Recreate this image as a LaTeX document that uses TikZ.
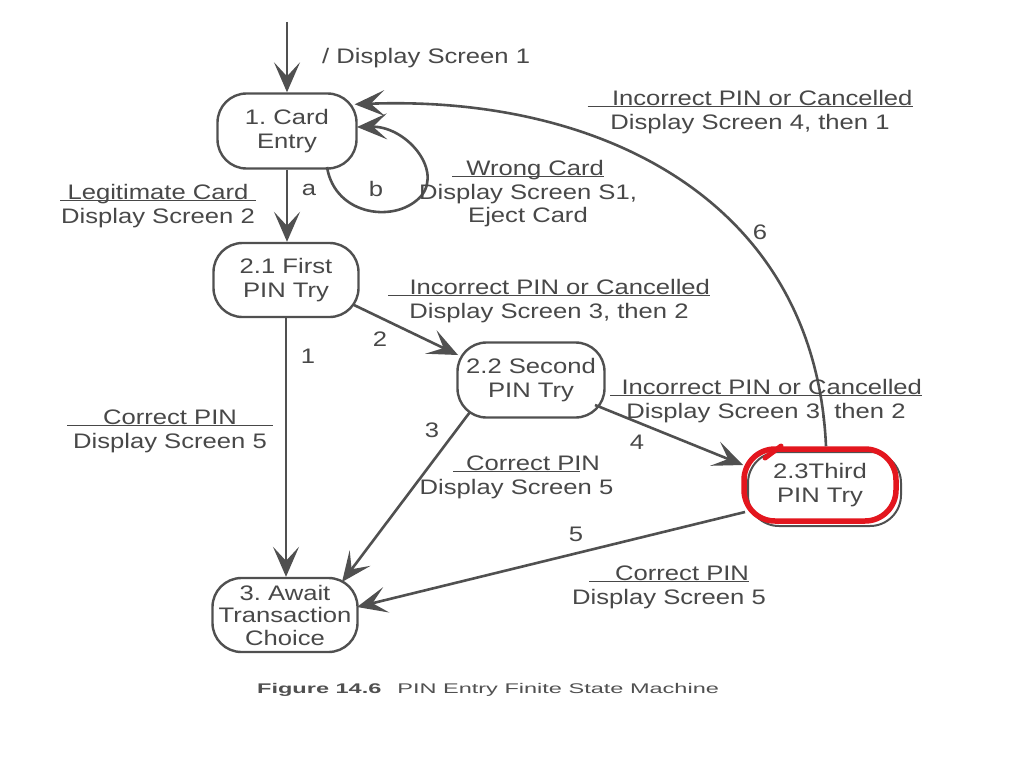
\documentclass[tikz,border=0pt]{standalone}
\usepackage{fontspec}
\setmainfont{Liberation Sans}[FakeStretch=1.22]
\newfontfamily\capfont{Liberation Sans}[FakeStretch=1.68]
\usetikzlibrary{arrows.meta,calc}
\definecolor{ink}{HTML}{484848}
\definecolor{lin}{HTML}{505050}
\definecolor{redmark}{HTML}{E3161E}
\newcommand\ulbox[1]{\setbox0\hbox{#1}\rlap{\color{ink}\rule[-1.6pt]{\wd0}{1.4pt}}\box0}
\newcommand\evt[2]{\begin{tabular}[t]{@{}c@{}}\ulbox{#1}\\#2\end{tabular}}
\begin{document}
\begin{tikzpicture}[x=1pt,y=-1pt,
  font=\fontsize{21}{23.5}\selectfont, text=ink,
  state/.style={draw=lin, line width=2.4pt, rounded corners=29pt,
    minimum width=145pt, minimum height=74pt, align=center, inner sep=0pt},
  tr/.style={draw=lin, line width=2.6pt, -{Stealth[length=30pt,width=26pt,inset=14pt]}},
  lbl/.style={anchor=base, inner sep=0pt},
  num/.style={inner sep=0pt}]
\useasboundingbox[fill=white] (0,0) rectangle (1024,768);

% states
\node[state, minimum width=139pt, minimum height=75pt] (card) at (287,131) {1.~Card\\Entry};
\node[state] (first) at (286,280) {2.1 First\\PIN Try};
\node[state, minimum width=147pt, minimum height=75pt] (second) at (531,380) {2.2 Second\\PIN Try};
\draw[lin, line width=2pt, rounded corners=31pt] (748,452) rectangle (901,526);
\node[state, draw=redmark, line width=5.5pt, rounded corners=31pt, minimum width=152pt, minimum height=72pt] (third) at (820,485) {2.3Third\\PIN Try};
\draw[redmark, line width=5pt, line cap=round] (765,458) -- (781,446);
\node[state, font=\fontsize{21}{22.5}\selectfont] (await) at (285,615) {3.~Await\\Transaction\\Choice};

% transitions
\coordinate (start) at (287,22);
\draw[tr] (start) -- (card.north);
\draw[tr] (card.south) -- (card.south |- first.north);
\draw[tr] ($(card.center)+(40,36)$) .. controls (335,217) and (398,224) .. (422,195)
  .. controls (442,168) and (405,126) .. ($(card.center)+(70,-4)$);
\draw[tr] ($(third.north)+(6,0)$) .. controls (815,200) and (600,95) .. ($(card.north east)+(-3,12)$);
\draw[tr] (first.south) -- (first.south |- await.north);
\draw[tr] ($(first.center)+(68,25)$) -- ($(second.center)+(-73,-25)$);
\draw[tr] ($(second.center)+(-61,32)$) -- ($(await.center)+(57,-33)$);
\draw[tr] ($(second.center)+(64,25)$) -- ($(third.center)+(-77,-20)$);
\draw[tr] ($(third.center)+(-75,27)$) -- ($(await.center)+(72,-8)$);

% numbers
\node[num] (la) at (309,190) {a};
\node[num] (lb) at (376,189) {b};
\node[num] (l1) at (308,356) {1};
\node[num] (l2) at (380,339) {2};
\node[num] (l3) at (432,430) {3};
\node[num] (l4) at (637,442) {4};
\node[num] (l5) at (576,534) {5};
\node[num] (l6) at (760,232) {6};

% event labels
\node[anchor=west, inner sep=0pt] (e0) at (322,58) {/ Display Screen 1};
\node[lbl] (e1) at (158,199.5) {\evt{\makebox[196pt]{Legitimate Card}}{Display Screen 2}};
\node[lbl] (e2) at (528,175.5) {\evt{\makebox[152pt][r]{Wrong Card}}{Display Screen S1,\\Eject Card}};
\node[lbl] (e3) at (750,105.5) {\evt{\makebox[325pt][r]{Incorrect PIN or Cancelled}}{Display Screen 4, then 1}};
\node[lbl] (e4) at (549,294.5) {\evt{\makebox[322pt][r]{Incorrect PIN or Cancelled}}{Display Screen 3, then 2}};
\node[lbl] (e5) at (766,394.5) {\evt{\makebox[312pt][r]{Incorrect PIN or Cancelled}}{Display Screen 3, then 2}};
\node[lbl] (e6) at (170,424.5) {\evt{\makebox[206pt]{Correct PIN}}{Display Screen 5}};
\node[lbl] (e7) at (516.5,470.5) {\evt{\makebox[147pt][r]{Correct PIN}\hspace*{-20pt}}{Display Screen 5}};
\node[lbl] (e8) at (669,580.5) {\evt{\makebox[160pt][r]{Correct PIN}}{Display Screen 5}};

% caption
\node[anchor=base west, inner sep=0pt, text=lin] (cap) at (257,693)
  {\capfont\fontsize{14}{16}\selectfont\textbf{Figure 14.6}\hspace{16pt}PIN Entry Finite State Machine};
\end{tikzpicture}
\end{document}
